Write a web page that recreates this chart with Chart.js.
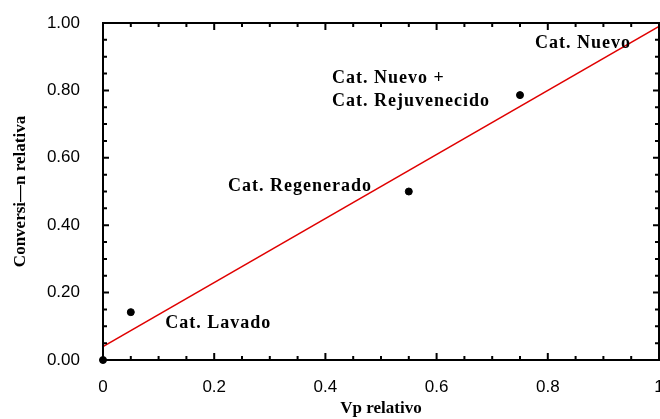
<!DOCTYPE html>
<html>
<head>
<meta charset="utf-8">
<script src="https://cdn.jsdelivr.net/npm/chart.js@4"></script>
<style>
  html, body { margin: 0; padding: 0; background: #fff; }
  #wrap { width: 660px; height: 419px; }
</style>
</head>
<body>
<div id="wrap"><canvas id="grafico" width="660" height="419"></canvas></div>
<script>
// datos medidos
const vpRelativo = [0, 0.05, 0.55, 0.75];
const conversion = [0, 0.142, 0.50, 0.786];
// recta de ajuste
const ajusteX = [0, 1];
const ajusteY = [0.04, 0.99];
const ticksX = [0, 0.2, 0.4, 0.6, 0.8, 1];
const ticksY = [0, 0.2, 0.4, 0.6, 0.8, 1];
// etiquetas de catalizador (coordenadas de datos)
const etiquetas = ['Cat. Nuevo', 'Cat. Nuevo +', 'Cat. Rejuvenecido', 'Cat. Regenerado', 'Cat. Lavado'];
const etiquetasX = [0.777, 0.412, 0.412, 0.225, 0.112];
const etiquetasY = [0.94, 0.837, 0.769, 0.516, 0.11];

const fuenteTexto = 'bold 18px "Liberation Serif", serif';

const marcoPlugin = {
    id: 'marco',
    afterDatasetsDraw(chart) {
        const { ctx, chartArea: a, scales: { x, y } } = chart;
        ctx.save();
        ctx.strokeStyle = '#000';
        ctx.lineWidth = 2;
        ctx.strokeRect(a.left, a.top, a.right - a.left, a.bottom - a.top);
        ctx.beginPath();
        for (let i = 0; i <= 20; i++) {
            const v = i * 0.05;
            const major = i % 4 === 0;
            const px = x.getPixelForValue(v);
            const lx = major ? 7 : 4;
            ctx.moveTo(px, a.bottom); ctx.lineTo(px, a.bottom - lx);
            ctx.moveTo(px, a.top); ctx.lineTo(px, a.top + lx);
            const py = y.getPixelForValue(v);
            const ly = major ? 6 : 4;
            ctx.moveTo(a.left, py); ctx.lineTo(a.left + ly, py);
            ctx.moveTo(a.right, py); ctx.lineTo(a.right - ly, py);
        }
        ctx.stroke();
        ctx.fillStyle = '#000';
        ctx.font = fuenteTexto;
        ctx.letterSpacing = '1px';
        ctx.textAlign = 'left';
        ctx.textBaseline = 'middle';
        etiquetas.forEach((t, i) => {
            ctx.fillText(t, x.getPixelForValue(etiquetasX[i]), y.getPixelForValue(etiquetasY[i]));
        });
        ctx.restore();
    }
};

const ctx = document.getElementById('grafico').getContext('2d');
new Chart(ctx, {
    type: 'scatter',
    data: {
        datasets: [
            {
                type: 'line',
                data: ajusteX.map((v, i) => ({ x: v, y: ajusteY[i] })),
                borderColor: '#e00000',
                borderWidth: 1.5,
                pointRadius: 0,
                fill: false
            },
            {
                data: vpRelativo.map((v, i) => ({ x: v, y: conversion[i] })),
                backgroundColor: '#000',
                borderColor: '#000',
                pointRadius: 3.5,
                clip: false
            }
        ]
    },
    options: {
        responsive: false,
        animation: false,
        layout: { autoPadding: false, padding: { top: 23, right: 1, left: 0, bottom: 0 } },
        plugins: { legend: { display: false }, tooltip: { enabled: false } },
        scales: {
            x: {
                type: 'linear',
                min: 0, max: 1,
                afterFit: s => { s.height = 59; s.paddingLeft = 0; s.paddingRight = 0; },
                afterBuildTicks: s => { s.ticks = ticksX.map(v => ({ value: v })); },
                grid: { display: false },
                border: { display: false },
                ticks: {
                    color: '#000',
                    padding: 9,
                    maxRotation: 0,
                    font: { family: '"Liberation Sans", sans-serif', size: 17 },
                    callback: v => String(v)
                },
                title: {
                    display: true,
                    text: 'Vp relativo',
                    color: '#000',
                    padding: { top: 7, bottom: 0 },
                    font: { family: '"Liberation Serif", serif', size: 17, weight: 'bold' }
                }
            },
            y: {
                type: 'linear',
                min: 0, max: 1,
                afterFit: s => { s.width = 103; s.paddingTop = 0; s.paddingBottom = 0; },
                afterBuildTicks: s => { s.ticks = ticksY.map(v => ({ value: v })); },
                grid: { display: false },
                border: { display: false },
                ticks: {
                    color: '#000',
                    padding: 15,
                    font: { family: '"Liberation Sans", sans-serif', size: 17 },
                    callback: v => v.toFixed(2)
                },
                title: {
                    display: true,
                    text: 'Conversi—n relativa',
                    color: '#000',
                    padding: { top: 10, bottom: 0 },
                    font: { family: '"Liberation Serif", serif', size: 17, weight: 'bold' }
                }
            }
        }
    },
    plugins: [marcoPlugin]
});
</script>
</body>
</html>
